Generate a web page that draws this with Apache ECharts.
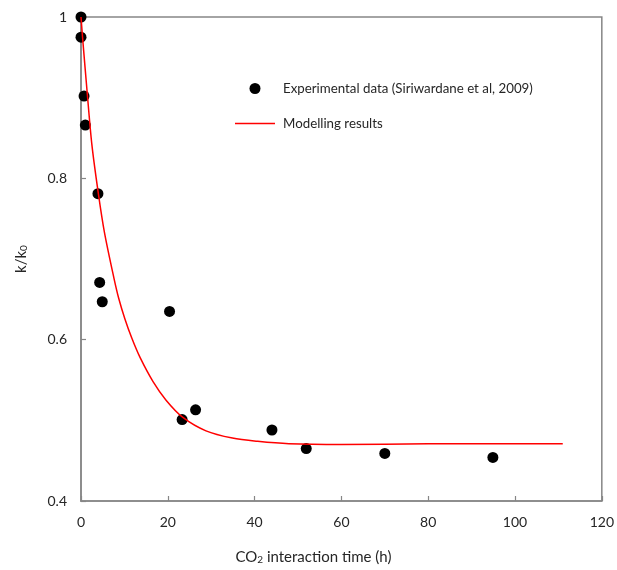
<!DOCTYPE html>
<html>
<head>
<meta charset="utf-8">
<style>
  html, body { margin: 0; padding: 0; background: #ffffff; }
  #chart { width: 617px; height: 570px; }
</style>
<script src="https://cdn.jsdelivr.net/npm/echarts@6/dist/echarts.min.js"></script>
</head>
<body>
<div id="chart"></div>
<script>
// Measured permeability ratio k/k0 against CO2 exposure time
const expTime  = [0, 0, 0.7, 1.0, 3.9, 4.3, 4.9, 20.4, 23.3, 26.4, 44.0, 51.9, 70.0, 94.9];
const expRatio = [1.0, 0.975, 0.902, 0.866, 0.781, 0.671, 0.647, 0.635, 0.501, 0.513, 0.488, 0.465, 0.459, 0.454];

// Model curve samples
const modelTime  = [0, 0.4, 1.4, 2.5, 4.0, 5.4, 7.6, 8.7, 10.1, 11.7, 13.6, 16.6, 19.6, 23.4, 28.8, 34.9, 40.7, 47.9, 60, 80, 100, 111];
const modelRatio = [1.0, 0.972, 0.908, 0.842, 0.781, 0.733, 0.676, 0.651, 0.626, 0.602, 0.578, 0.548, 0.525, 0.504, 0.487, 0.478, 0.474, 0.471, 0.470, 0.471, 0.471, 0.471];

// Axis ranges and tick steps
const xTicks = { min: 0, max: 120, step: 20 };
const yTicks = { min: 0.4, max: 1.0, step: 0.2 };

const FONT = 'Lato';
const TEXT = '#262626';
const AXIS = '#868686';
const SCATTER_NAME = 'Experimental data (Siriwardane et al, 2009)';
const MODEL_NAME = 'Modelling results';

const zip = (xs, ys) => xs.map((x, i) => [x, ys[i]]);

const chart = echarts.init(document.getElementById('chart'), null, { renderer: 'canvas' });

chart.setOption({
  animation: false,
  backgroundColor: '#ffffff',
  textStyle: { fontFamily: FONT, color: TEXT },
  grid: {
    left: 81, right: 14, top: 17, bottom: 68,
    show: true, borderColor: AXIS, borderWidth: 1.5, backgroundColor: 'transparent'
  },
  legend: {
    orient: 'vertical',
    left: 235, top: 82, padding: 0,
    itemWidth: 40, itemHeight: 11, itemGap: 22,
    textStyle: { fontFamily: FONT, fontSize: 13.3, color: TEXT, padding: [0, 0, 0, 3] },
    data: [
      { name: SCATTER_NAME, icon: 'circle' },
      // plain stroke for the model line, no marker in the middle
      { name: MODEL_NAME, icon: 'path://M0,0H40V1.5H0Z', itemStyle: { color: '#ff0000' } }
    ]
  },
  xAxis: {
    type: 'value',
    min: xTicks.min, max: xTicks.max, interval: xTicks.step,
    name: 'CO{sub|2} interaction time (h)',
    nameLocation: 'middle', nameGap: 48,
    nameTextStyle: {
      fontFamily: FONT, fontSize: 15, color: TEXT, padding: [0, 56, 0, 0],
      rich: { sub: { fontFamily: FONT, fontSize: 10, color: TEXT, verticalAlign: 'bottom', padding: [6, 0, 0, 0] } }
    },
    axisLine: { show: true, lineStyle: { color: AXIS, width: 1.5 } },
    axisTick: { show: true, inside: true, length: 5, lineStyle: { color: AXIS, width: 1.2 } },
    axisLabel: { margin: 14, fontFamily: FONT, fontSize: 14, color: TEXT },
    splitLine: { show: false }
  },
  yAxis: {
    type: 'value',
    min: yTicks.min, max: yTicks.max, interval: yTicks.step,
    name: '{m|k/k}{sub|0}',
    nameLocation: 'middle', nameGap: 52,
    nameTextStyle: {
      rich: {
        m: { fontFamily: FONT, fontSize: 15, color: TEXT },
        sub: { fontFamily: FONT, fontSize: 10, color: TEXT, verticalAlign: 'bottom', padding: [6, 0, 0, 0] }
      }
    },
    axisLine: { show: true, lineStyle: { color: AXIS, width: 1.5 } },
    axisTick: { show: true, inside: true, length: 5, lineStyle: { color: AXIS, width: 1.2 } },
    axisLabel: { margin: 14, fontFamily: FONT, fontSize: 14, color: TEXT },
    splitLine: { show: false }
  },
  series: [
    {
      name: SCATTER_NAME,
      type: 'scatter',
      symbol: 'circle',
      symbolSize: 11,
      itemStyle: { color: '#000000', opacity: 1 },
      data: zip(expTime, expRatio),
      z: 3
    },
    {
      name: MODEL_NAME,
      type: 'line',
      symbol: 'none',
      smooth: 0.3,
      lineStyle: { color: '#ff0000', width: 1.5 },
      itemStyle: { color: '#ff0000' },
      data: zip(modelTime, modelRatio),
      z: 4
    }
  ]
});
</script>
</body>
</html>
